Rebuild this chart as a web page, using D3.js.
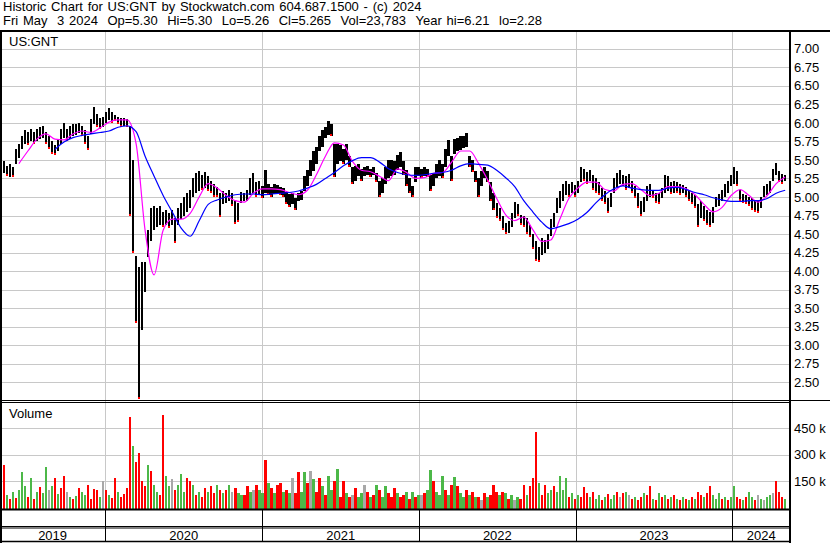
<!DOCTYPE html>
<html>
<head>
<meta charset="utf-8">
<script src="https://cdn.jsdelivr.net/npm/d3@7"></script>
<style>
  body { margin: 0; background: #fff; }
  svg { display: block; font-family: "Liberation Sans", Arial, sans-serif; }
</style>
</head>
<body>
<svg id="chart" width="830" height="543"></svg>
<script>
// Header text
var title1 = "Historic Chart for US:GNT by Stockwatch.com 604.687.1500 - (c) 2024";
var title2 = "Fri May  3 2024  Op=5.30  Hi=5.30  Lo=5.26  Cl=5.265  Vol=23,783  Year hi=6.21  lo=2.28";
var symbol = "US:GNT";

// Weekly samples, first one on Fri May 3 2019
var startDate = new Date(2019, 4, 3);
var endDate = new Date(2024, 4, 3);

// Weekly high / low
var hi = [
  5.50,5.48,5.42,5.45,5.40,5.65,5.72,5.82,5.90,5.88,
  5.92,5.88,5.92,5.95,5.96,5.88,5.82,5.76,5.70,5.78,
  5.92,6.00,5.92,5.96,5.98,5.98,6.00,5.96,5.90,5.82,
  6.05,6.22,6.12,6.06,6.08,6.15,6.20,6.15,6.10,6.08,
  6.06,6.06,6.05,5.96,5.50,4.20,4.05,4.12,4.12,4.55,
  4.85,4.88,4.85,4.88,4.80,4.82,4.78,4.82,4.72,4.85,
  4.92,5.00,5.05,5.10,5.25,5.32,5.35,5.30,5.34,5.28,
  5.22,5.18,5.14,5.05,5.08,5.06,5.09,5.05,4.95,4.92,
  5.07,5.06,5.10,5.25,5.32,5.20,5.22,5.15,5.36,5.18,
  5.14,5.18,5.16,5.14,5.12,5.07,5.04,5.06,4.98,5.06,
  5.08,5.28,5.36,5.50,5.62,5.68,5.82,5.90,5.95,6.02,
  5.98,5.72,5.72,5.70,5.65,5.72,5.55,5.40,5.42,5.45,
  5.38,5.40,5.42,5.38,5.40,5.32,5.22,5.25,5.40,5.50,
  5.50,5.48,5.56,5.60,5.48,5.36,5.25,5.15,5.40,5.40,
  5.38,5.40,5.38,5.30,5.32,5.45,5.50,5.45,5.65,5.77,
  5.55,5.78,5.80,5.82,5.82,5.86,5.55,5.50,5.35,5.25,
  5.35,5.40,5.35,5.20,5.05,4.92,4.85,4.75,4.65,4.68,
  4.78,4.93,4.90,4.76,4.74,4.72,4.62,4.50,4.40,4.32,
  4.45,4.42,4.50,4.70,4.78,4.98,5.08,5.18,5.22,5.18,
  5.20,5.16,5.22,5.40,5.38,5.34,5.36,5.30,5.25,5.20,
  5.12,5.08,4.98,5.05,5.25,5.32,5.36,5.30,5.28,5.31,
  5.22,5.15,5.05,4.95,5.00,5.15,5.18,5.10,5.06,5.05,
  5.12,5.29,5.28,5.20,5.22,5.20,5.18,5.16,5.13,5.10,
  5.05,5.02,4.90,4.95,4.88,4.82,4.80,4.86,5.00,5.04,
  5.10,5.18,5.22,5.30,5.40,5.35,5.10,5.04,5.02,5.00,
  4.98,4.96,4.94,5.00,5.15,5.18,5.22,5.38,5.46,5.35,
  5.31,5.30
];
var lo = [
  5.30,5.32,5.28,5.27,5.27,5.45,5.52,5.65,5.72,5.70,
  5.75,5.72,5.76,5.78,5.80,5.72,5.65,5.58,5.56,5.62,
  5.72,5.80,5.76,5.78,5.82,5.84,5.86,5.82,5.72,5.64,
  5.85,5.98,5.95,5.92,5.94,6.00,6.04,6.00,6.02,5.98,
  5.94,5.96,5.95,4.75,4.25,3.30,2.28,3.20,3.72,4.19,
  4.40,4.55,4.60,4.62,4.60,4.62,4.58,4.62,4.38,4.62,
  4.70,4.75,4.80,4.85,5.00,5.05,5.08,5.10,5.12,5.08,
  5.05,5.00,5.00,4.73,4.90,4.92,4.95,4.88,4.64,4.66,
  4.92,4.94,4.95,5.02,5.05,5.00,5.02,4.98,5.05,5.02,
  5.00,5.04,5.06,5.02,5.00,4.90,4.86,4.90,4.82,4.94,
  4.96,5.08,5.15,5.28,5.35,5.45,5.62,5.68,5.80,5.84,
  5.82,5.27,5.45,5.48,5.45,5.50,5.40,5.18,5.22,5.28,
  5.22,5.28,5.30,5.27,5.30,5.20,5.00,5.05,5.18,5.25,
  5.28,5.30,5.36,5.40,5.30,5.15,5.05,5.00,5.20,5.28,
  5.26,5.28,5.27,5.08,5.15,5.25,5.28,5.25,5.40,5.55,
  5.22,5.58,5.62,5.64,5.66,5.68,5.40,5.34,5.20,5.00,
  5.15,5.25,5.20,4.95,4.82,4.72,4.68,4.55,4.50,4.52,
  4.60,4.72,4.74,4.62,4.60,4.50,4.46,4.30,4.14,4.12,
  4.22,4.25,4.30,4.48,4.60,4.78,4.85,4.95,5.02,5.00,
  5.05,5.00,5.05,5.20,5.22,5.18,5.22,5.10,5.05,5.02,
  4.95,4.90,4.79,4.86,5.05,5.14,5.18,5.15,5.10,5.12,
  5.05,4.98,4.85,4.75,4.80,4.95,5.00,4.98,4.92,4.90,
  4.98,5.05,5.08,5.04,5.06,5.06,5.02,5.05,5.00,4.95,
  4.90,4.85,4.59,4.72,4.68,4.62,4.59,4.65,4.86,4.88,
  4.95,5.00,5.05,5.15,5.18,5.15,4.95,4.92,4.90,4.88,
  4.82,4.80,4.79,4.85,5.00,5.02,5.05,5.22,5.30,5.20,
  5.18,5.22
];

// Volume (thousands) and direction: g = up, r = down, n = unchanged
var volK = [
  60,240,70,50,90,55,100,200,120,60,
  170,50,90,115,80,230,100,120,170,75,
  110,180,90,60,50,65,110,90,70,130,
  50,105,100,60,150,100,70,55,170,90,
  60,75,110,515,350,260,310,150,120,240,
  210,130,90,70,525,180,120,160,100,130,
  190,90,170,150,130,70,90,60,110,90,
  125,80,130,100,80,100,130,90,110,80,
  70,70,120,90,100,130,100,80,270,140,
  110,80,130,140,90,100,80,170,80,200,
  90,200,140,210,160,90,170,120,70,180,
  100,150,220,60,150,80,60,70,110,60,
  80,130,90,60,70,130,100,60,120,80,
  60,110,80,60,70,90,50,90,60,70,
  70,80,100,215,150,90,70,180,100,70,
  130,175,120,80,60,100,70,90,60,60,
  40,80,60,70,130,90,70,90,80,50,
  70,40,60,50,130,70,120,165,430,140,
  70,130,80,100,120,90,180,100,170,60,
  80,50,70,60,115,80,60,90,50,70,
  40,60,75,50,70,90,60,80,90,70,
  50,60,40,60,85,70,120,50,40,80,
  60,70,50,60,70,50,40,60,50,45,
  60,50,90,70,60,80,125,70,50,80,
  50,60,40,60,125,60,50,40,60,90,
  60,40,70,50,40,60,70,80,150,90,
  60,50
];
var volDir = [
  "grgrgrgggr","grgrggngrg","rrngrgrggr","rrrgnrgrrg","rrrrgrrrrg",
  "rggrrggnrg","ggrrgrgrrg","rrgrgrgnrg","grrgnrggrg","rgrrgrgnrr",
  "ggrngrrgrg","grgrrgrnrg","gnrgrgrggr","rrgrrgrgrg","nrggrgggrg",
  "rgrggrgrgr","nrgrrrgrgr","gngrrgrrrg","rrggrggggr","grgrrrgrgg",
  "rgrggrnrgn","rgrrgrrgrg","rgrgrgrgrg","rgrrgrrggg","rgrggrrgrg",
  "grngnggnrr","rg"
].join("");

// Moving averages, sampled every 3 weeks
var maFastStart = 6;
var maFast = [
  5.45,5.62,5.78,5.85,5.78,5.77,5.85,5.89,5.87,5.93,
  6.01,6.04,6.04,5.72,4.55,3.95,4.55,4.70,4.70,4.78,
  5.00,5.18,5.12,5.02,4.95,4.93,5.05,5.11,5.11,5.10,
  5.06,5.03,5.09,5.30,5.55,5.73,5.70,5.48,5.36,5.34,
  5.28,5.22,5.38,5.33,5.25,5.26,5.32,5.33,5.47,5.62,
  5.62,5.45,5.23,4.98,4.76,4.68,4.73,4.56,4.40,4.42,
  4.70,4.98,5.12,5.20,5.20,5.10,5.08,5.17,5.18,5.10,
  5.02,5.05,5.14,5.14,5.11,5.03,4.90,4.80,4.86,5.02,
  5.10,5.02,4.93,5.02,5.18,5.27
];
var maSlowStart = 18;
var maSlow = [
  5.64,5.74,5.80,5.83,5.85,5.87,5.89,5.94,5.96,5.88,
  5.55,5.28,5.02,4.80,4.58,4.47,4.68,4.90,4.96,5.00,
  5.03,5.04,5.04,5.03,5.04,5.05,5.06,5.08,5.12,5.17,
  5.25,5.33,5.42,5.49,5.53,5.53,5.47,5.38,5.33,5.30,
  5.29,5.30,5.32,5.33,5.36,5.42,5.45,5.44,5.43,5.36,
  5.26,5.14,4.95,4.80,4.66,4.57,4.60,4.64,4.70,4.79,
  4.92,5.03,5.11,5.15,5.12,5.10,5.09,5.09,5.12,5.13,
  5.10,5.06,5.03,4.99,4.96,4.94,4.94,4.95,4.95,4.98,
  5.05,5.09
];

// Axis labels
var priceTicks = [2.50,2.75,3.00,3.25,3.50,3.75,4.00,4.25,4.50,4.75,5.00,5.25,5.50,5.75,6.00,6.25,6.50,6.75,7.00];
var volTicks = [150000, 300000, 450000];
var years = [2019, 2020, 2021, 2022, 2023, 2024];

if (hi.length !== 262 || lo.length !== 262 || volK.length !== 262 || volDir.length !== 262) {
  throw new Error("length mismatch " + [hi.length, lo.length, volK.length, volDir.length]);
}
if (maFastStart + 3 * (maFast.length - 1) !== 261 || maSlowStart + 3 * (maSlow.length - 1) !== 261) {
  throw new Error("ma length mismatch " + [maFast.length, maSlow.length]);
}

// Layout
var plotW = 790, pTop = 32, pBot = 400, vTop = 403, vBot = 509.5;

var svg = d3.select("#chart");
var weeks = hi.map(function(h, i) { return d3.timeDay.offset(startDate, 7 * i); });

var x = d3.scaleTime().domain([startDate, endDate]).range([0.85, 785.2]);
var py = d3.scaleLinear().domain([2.5, 7.0]).range([382.3, 48.7]);
var vy = d3.scaleLinear().domain([0, 450000]).range([507.5, 428.3]);

var colors = { g: "#4cb848", r: "#ff0000", n: "#a8a8a8" };
var gridColor = "#c8c8c8";

// Header: word by word, the original uses a wider space (about 4.75px)
function spacedLine(str, x0, y) {
  var g = svg.append("g");
  var cursor = x0;
  str.split(" ").forEach(function(word) {
    if (word.length) {
      var t = g.append("text").attr("x", cursor).attr("y", y).attr("font-size", 13).text(word);
      cursor += t.node().getComputedTextLength();
    }
    cursor += 4.75;
  });
}
spacedLine(title1, 3, 11);
spacedLine(title2, 3, 25);

// Horizontal gridlines (price)
svg.append("g")
    .call(d3.axisLeft(py).tickValues(priceTicks).tickSize(-plotW).tickFormat(""))
    .call(function(g) { g.select(".domain").remove(); })
    .selectAll("line").attr("stroke", gridColor).attr("shape-rendering", "crispEdges");

// Horizontal gridlines (volume)
svg.append("g")
    .call(d3.axisLeft(vy).tickValues(volTicks).tickSize(-plotW).tickFormat(""))
    .call(function(g) { g.select(".domain").remove(); })
    .selectAll("line").attr("stroke", gridColor).attr("shape-rendering", "crispEdges");

// Vertical year gridlines
var yearStarts = years.slice(1).map(function(y) { return new Date(y, 0, 1); });
svg.append("g")
    .attr("transform", "translate(0," + vBot + ")")
    .call(d3.axisBottom(x).tickValues(yearStarts).tickSize(-(vBot - pTop)).tickFormat(""))
    .call(function(g) { g.select(".domain").remove(); })
    .selectAll("line").attr("stroke", gridColor).attr("shape-rendering", "crispEdges");

// Price bars
svg.append("clipPath").attr("id", "pclip")
    .append("rect").attr("x", 0).attr("y", pTop).attr("width", plotW).attr("height", pBot - pTop);
var price = svg.append("g").attr("clip-path", "url(#pclip)");

price.selectAll("rect.bar")
    .data(weeks)
    .enter().append("rect")
        .attr("class", "bar")
        .attr("x", function(d) { return x(d) - 1.2; })
        .attr("width", 2.4)
        .attr("y", function(d, i) { return py(hi[i]); })
        .attr("height", function(d, i) { return Math.max(1, py(lo[i]) - py(hi[i])); })
        .attr("fill", "#000")
        .attr("shape-rendering", "crispEdges");

// Red close marks on down weeks
price.selectAll("rect.dn")
    .data(weeks.filter(function(d, i) { return i > 0 && hi[i] + lo[i] < hi[i - 1] + lo[i - 1]; }))
    .enter().append("rect")
        .attr("class", "dn")
        .attr("x", function(d) { return x(d) - 1; })
        .attr("width", 2)
        .attr("y", function(d) { var i = weeks.indexOf(d); return py(lo[i]) - 2; })
        .attr("height", 2)
        .attr("fill", "#ff0000")
        .attr("shape-rendering", "crispEdges");

// Moving averages
function maLine(start) {
  return d3.line()
      .x(function(d, k) { return x(weeks[start + 3 * k]); })
      .y(function(d) { return py(d); })
      .curve(d3.curveMonotoneX);
}
price.append("path").datum(maFast)
    .attr("d", maLine(maFastStart))
    .attr("fill", "none").attr("stroke", "#ff00ff").attr("stroke-width", 1.2);
price.append("path").datum(maSlow)
    .attr("d", maLine(maSlowStart))
    .attr("fill", "none").attr("stroke", "#0000ff").attr("stroke-width", 1.2);

// Volume bars
svg.append("g").selectAll("rect")
    .data(weeks)
    .enter().append("rect")
        .attr("x", function(d) { return x(d) - 1.25; })
        .attr("width", 2.5)
        .attr("y", function(d, i) { return vy(volK[i] * 1000); })
        .attr("height", function(d, i) { return vy(0) - vy(volK[i] * 1000) + 1; })
        .attr("fill", function(d, i) { return colors[volDir[i]]; })
        .attr("shape-rendering", "crispEdges");

// Panel labels
svg.append("text").attr("x", 9).attr("y", 46).attr("font-size", 13).text(symbol);
svg.append("text").attr("x", 9).attr("y", 418).attr("font-size", 13).text("Volume");

// Right axes (labels only)
var pAxis = svg.append("g")
    .attr("transform", "translate(794,0)")
    .call(d3.axisRight(py).tickValues(priceTicks).tickSize(0).tickPadding(0).tickFormat(d3.format(".2f")));
pAxis.select(".domain").remove();
pAxis.selectAll("text").attr("font-size", 13).attr("font-family", null).attr("fill", "#000");

var vAxis = svg.append("g")
    .attr("transform", "translate(794,0)")
    .call(d3.axisRight(vy).tickValues(volTicks).tickSize(0).tickPadding(0)
        .tickFormat(function(d) { return (d / 1000) + " k"; }));
vAxis.select(".domain").remove();
vAxis.selectAll("text").attr("font-size", 13).attr("font-family", null).attr("fill", "#000");

// Frame lines
function hline(y, x0, x1, w) {
  svg.append("line").attr("x1", x0).attr("x2", x1).attr("y1", y).attr("y2", y)
      .attr("stroke", "#000").attr("stroke-width", w);
}
function vline(xp, y0, y1, w) {
  svg.append("line").attr("x1", xp).attr("x2", xp).attr("y1", y0).attr("y2", y1)
      .attr("stroke", "#000").attr("stroke-width", w);
}
hline(31, 0, 830, 2);
hline(400.5, 0, 830, 1);
hline(402.5, 0, plotW, 1);
hline(509.5, 0, plotW, 2);
hline(526.5, 0, plotW, 1);
hline(528, 0, plotW, 1);
hline(541.5, 0, plotW, 1.5);
vline(1, 30, 543, 2);
vline(790, 30, 543, 2);

// Year boundaries through the date rows
yearStarts.forEach(function(d) {
  vline(Math.round(x(d)) + 0.5, vBot, 541.5, 1);
});

// Year labels, centred in each visible segment
svg.append("g").selectAll("text")
    .data(years)
    .enter().append("text")
        .attr("x", function(y) {
          var a = Math.max(0, x(new Date(y, 0, 1)));
          var b = Math.min(plotW, x(new Date(y + 1, 0, 1)));
          return (a + b) / 2;
        })
        .attr("y", 539.5)
        .attr("text-anchor", "middle")
        .attr("font-size", 13)
        .text(function(y) { return y; });
</script>
</body>
</html>
